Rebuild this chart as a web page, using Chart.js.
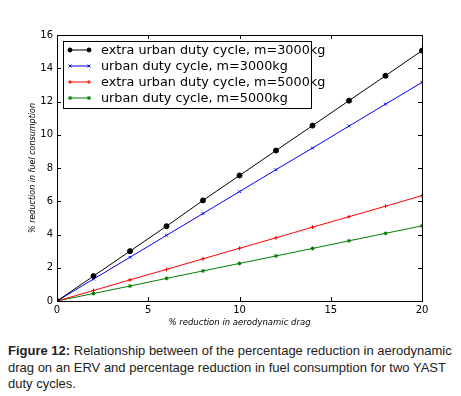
<!DOCTYPE html>
<html>
<head>
<meta charset="utf-8">
<script src="https://cdn.jsdelivr.net/npm/chart.js@4.4.1/dist/chart.umd.min.js"></script>
<style>
  html, body { margin: 0; padding: 0; background: #fff; }
  #wrap { position: relative; width: 461px; height: 330px; }
  #caption {
    font-family: "Liberation Sans", Arial, sans-serif;
    font-size: 13px; line-height: 16.5px; color: #222;
    margin: 13px 0 0 8px; width: 453px;
  }
</style>
</head>
<body>
<div id="wrap"><canvas id="chart" width="461" height="330"></canvas></div>
<div id="caption"><b>Figure 12:</b> Relationship between of the percentage reduction in aerodynamic drag on an ERV and percentage reduction in fuel consumption for two YAST duty cycles.</div>
<script>
// ======================
// DATOS
// ======================
const dragReduction = [0, 2, 4, 6, 8, 10, 12, 14, 16, 18, 20];
const extraUrban3000 = [0, 1.5, 3.0, 4.5, 6.05, 7.55, 9.05, 10.55, 12.05, 13.55, 15.06];
const urban3000 = [0, 1.32, 2.63, 3.95, 5.26, 6.58, 7.9, 9.2, 10.52, 11.84, 13.15];
const extraUrban5000 = [0, 0.63, 1.27, 1.9, 2.54, 3.17, 3.8, 4.44, 5.07, 5.7, 6.34];
const urban5000 = [0, 0.45, 0.9, 1.36, 1.81, 2.26, 2.71, 3.16, 3.62, 4.07, 4.52];
const seriesNames = [
  'extra urban duty cycle, m=3000kg',
  'urban duty cycle, m=3000kg',
  'extra urban duty cycle, m=5000kg',
  'urban duty cycle, m=5000kg'
];
const xTicks = [0, 5, 10, 15, 20];
const yTicks = [0, 2, 4, 6, 8, 10, 12, 14, 16];

const tickFont = { family: 'DejaVu Sans', size: 10 };

function pts(ys) { return ys.map((y, i) => ({ x: dragReduction[i], y: y })) }

function mkSet(label, ys, color, style, r) {
  return {
    label: label, data: pts(ys),
    borderColor: color, backgroundColor: color,
    borderWidth: 1, pointStyle: style, pointRadius: r,
    pointBorderWidth: 1, pointBorderColor: color, pointBackgroundColor: color,
    tension: 0
  };
}

// marco, marcas hacia dentro y leyenda estilo matplotlib
const mplFrame = {
  id: 'mplFrame',
  afterDatasetsDraw(chart) {
    const { ctx, chartArea: a, scales } = chart;
    ctx.save();
    ctx.strokeStyle = '#000';
    ctx.lineWidth = 1;
    ctx.beginPath();
    xTicks.forEach(v => {
      const x = Math.round(scales.x.getPixelForValue(v)) + 0.5;
      ctx.moveTo(x, a.bottom); ctx.lineTo(x, a.bottom - 4);
      ctx.moveTo(x, a.top); ctx.lineTo(x, a.top + 4);
    });
    yTicks.forEach(v => {
      const y = Math.round(scales.y.getPixelForValue(v)) + 0.5;
      ctx.moveTo(a.left, y); ctx.lineTo(a.left + 4, y);
      ctx.moveTo(a.right, y); ctx.lineTo(a.right - 4, y);
    });
    ctx.stroke();
    ctx.strokeRect(Math.round(a.left) + 0.5, Math.round(a.top) + 0.5,
      Math.round(a.right - a.left), Math.round(a.bottom - a.top));

    // leyenda
    const bx = a.left + 6, by = a.top + 6, bw = 248, bh = 67;
    ctx.fillStyle = '#fff';
    ctx.fillRect(bx, by, bw, bh);
    ctx.strokeStyle = '#000';
    ctx.strokeRect(Math.round(bx) + 0.5, Math.round(by) + 0.5, bw, bh);
    ctx.font = '12.8px "DejaVu Sans"';
    ctx.textBaseline = 'middle';
    chart.data.datasets.forEach((ds, i) => {
      const y = by + 9 + i * 16;
      ctx.strokeStyle = ds.borderColor;
      ctx.fillStyle = ds.borderColor;
      ctx.beginPath();
      ctx.moveTo(bx + 7, y); ctx.lineTo(bx + 26, y);
      ctx.stroke();
      [bx + 7, bx + 26].forEach(px => {
        Chart.helpers.drawPoint(ctx, {
          pointStyle: ds.pointStyle, radius: 2, rotation: 0, borderWidth: 1
        }, px, y);
      });
      ctx.fillStyle = '#000';
      ctx.fillText(ds.label, bx + 38, y + 1);
    });
    ctx.restore();
  }
};

new Chart(document.getElementById('chart').getContext('2d'), {
  type: 'line',
  data: {
    datasets: [
      mkSet(seriesNames[0], extraUrban3000, '#000000', 'circle', 2.5),
      mkSet(seriesNames[1], urban3000, '#0000ff', 'crossRot', 2),
      mkSet(seriesNames[2], extraUrban5000, '#ff0000', 'cross', 2),
      mkSet(seriesNames[3], urban5000, '#007f00', 'star', 2)
    ]
  },
  options: {
    responsive: false,
    animation: false,
    layout: { padding: { left: 0, top: 35, right: 39, bottom: 0 } },
    plugins: { legend: { display: false }, tooltip: { enabled: false } },
    scales: {
      x: {
        type: 'linear', min: 0, max: 20,
        afterBuildTicks: s => { s.ticks = xTicks.map(v => ({ value: v })) },
        afterFit: s => { s.height = 29 },
        grid: { drawOnChartArea: false, drawTicks: false },
        border: { display: false },
        ticks: { color: '#000', font: tickFont, padding: 3, maxRotation: 0 },
        title: {
          display: true, text: '% reduction in aerodynamic drag', color: '#000',
          font: { family: 'DejaVu Sans', size: 8.5, style: 'italic' },
          padding: { top: 0, bottom: 2 }
        }
      },
      y: {
        type: 'linear', min: 0, max: 16,
        afterBuildTicks: s => { s.ticks = yTicks.map(v => ({ value: v })) },
        afterFit: s => { s.width = 57 },
        grid: { drawOnChartArea: false, drawTicks: false },
        border: { display: false },
        ticks: { color: '#000', font: tickFont, padding: 4 },
        title: {
          display: true, text: '% reduction in fuel consumption', color: '#000',
          font: { family: 'DejaVu Sans', size: 8, style: 'italic' },
          padding: { top: 28, bottom: 0 }
        }
      }
    }
  },
  plugins: [mplFrame]
});
</script>
</body>
</html>
